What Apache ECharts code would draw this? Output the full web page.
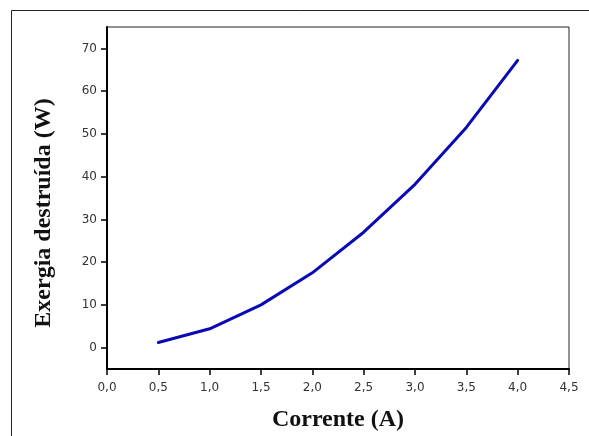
<!DOCTYPE html>
<html>
<head>
<meta charset="utf-8">
<script src="https://cdn.jsdelivr.net/npm/echarts@6/dist/echarts.min.js"></script>
<style>
  html, body { margin: 0; padding: 0; background: #fff; }
  #chart { width: 589px; height: 436px; }
</style>
</head>
<body>
<div id="chart"></div>
<script>
// Current (A) and destroyed exergy (W)
const currents = [0.5, 1.0, 1.5, 2.0, 2.5, 3.0, 3.5, 4.0];
const exergy = [1.2, 4.4, 10.0, 17.5, 27.0, 38.2, 51.5, 67.2];
const yTickValues = [0, 10, 20, 30, 40, 50, 60, 70];

const chart = echarts.init(document.getElementById('chart'), null, { renderer: 'canvas' });

const tickFont = { fontFamily: 'DejaVu Sans, Arial, sans-serif', fontSize: 12, color: '#333' };
const titleFont = { fontFamily: 'Liberation Serif, Times New Roman, serif', fontSize: 24, fontWeight: 'bold', color: '#111' };

chart.setOption({
  backgroundColor: '#fff',
  animation: false,
  graphic: [
    {
      type: 'rect',
      shape: { x: 11.5, y: 10.5, width: 700, height: 600 },
      style: { fill: 'none', stroke: '#222', lineWidth: 1 },
      silent: true
    }
  ],
  grid: {
    left: 107, top: 27, right: 20, bottom: 67,
    outerBoundsMode: 'none',
    containLabel: false,
    show: true, borderColor: '#222', borderWidth: 1, backgroundColor: 'transparent'
  },
  xAxis: {
    type: 'value',
    min: 0, max: 4.5, interval: 0.5,
    name: 'Corrente (A)',
    nameLocation: 'middle',
    nameGap: 39,
    nameMoveOverlap: false,
    nameTextStyle: titleFont,
    axisLine: { show: true, onZero: false, lineStyle: { color: '#000', width: 2 } },
    axisTick: { show: true, inside: false, length: 6, lineStyle: { color: '#000', width: 1.5 } },
    axisLabel: Object.assign({ margin: 13, formatter: v => v.toFixed(1).replace('.', ',') }, tickFont),
    splitLine: { show: false }
  },
  yAxis: {
    type: 'value',
    min: -5, max: 75, interval: 5,
    name: 'Exergia destruída (W)',
    nameLocation: 'middle',
    nameGap: 51,
    nameRotate: 90,
    nameMoveOverlap: false,
    nameTextStyle: Object.assign({ padding: [0, 30, 0, 0] }, titleFont),
    axisLine: { show: true, onZero: false, lineStyle: { color: '#000', width: 2 } },
    axisTick: { show: true, inside: false, length: 6, customValues: yTickValues, lineStyle: { color: '#000', width: 1.5 } },
    axisLabel: Object.assign({ margin: 10, customValues: yTickValues, formatter: v => String(v) }, tickFont),
    splitLine: { show: false }
  },
  series: [
    {
      type: 'line',
      data: currents.map((c, i) => [c, exergy[i]]),
      showSymbol: false,
      symbol: 'none',
      lineStyle: { color: '#0a0ab4', width: 3, cap: 'round', join: 'round' }
    }
  ]
});
</script>
</body>
</html>
